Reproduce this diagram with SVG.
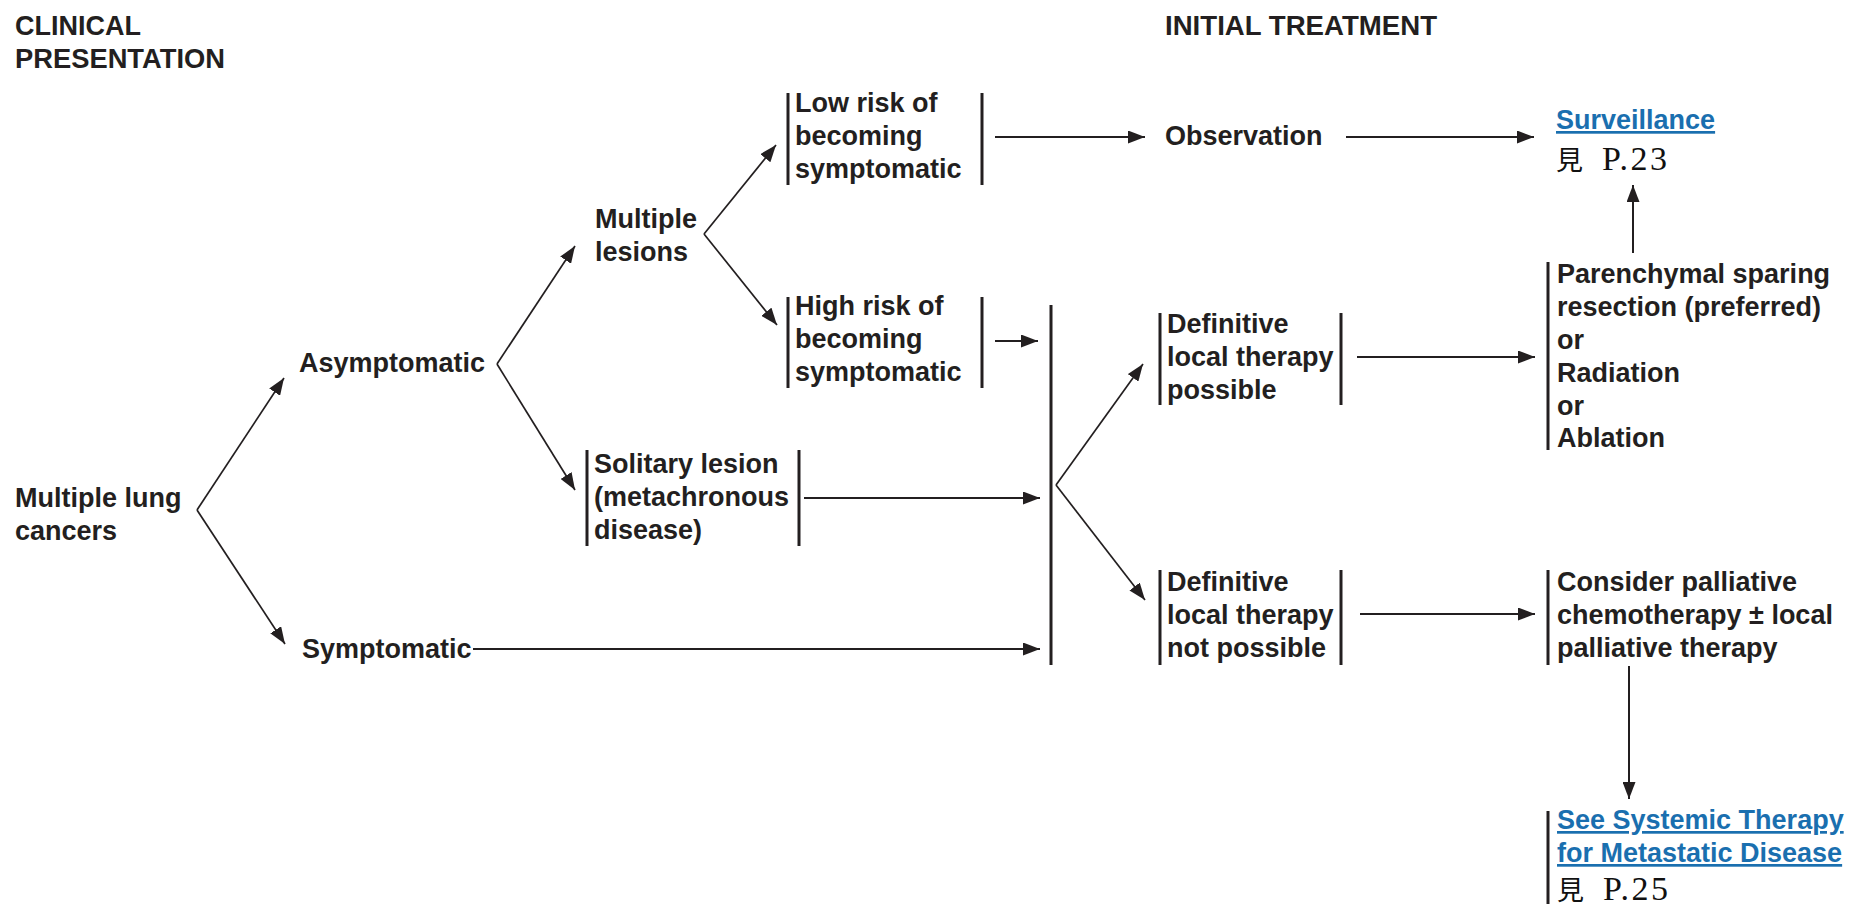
<svg xmlns="http://www.w3.org/2000/svg" width="1854" height="907" viewBox="0 0 1854 907">
<style>
  text { font-family: "Liberation Sans", Arial, sans-serif; font-weight: bold; font-size: 27px; fill: #231f20; }
  .hdr { font-size: 27px; }
  .link { fill: #1a6faf; text-decoration: underline; }
  .ref { font-family: "Liberation Serif", "Noto Sans CJK TC", serif; font-weight: normal; font-size: 34px; fill: #111; }
  .cjk { font-family: "Noto Sans CJK TC", "Noto Sans CJK SC", sans-serif; font-size: 27px; }
  .br { stroke: #231f20; stroke-width: 3; fill: none; }
  .ar { stroke: #231f20; stroke-width: 2; fill: none; marker-end: url(#ah); }
  .dg { stroke: #231f20; stroke-width: 1.7; fill: none; marker-end: url(#ah); }
</style>
<defs>
  <marker id="ah" markerUnits="userSpaceOnUse" markerWidth="18" markerHeight="13" refX="17" refY="6.5" orient="auto">
    <path d="M0,0 L17,6.5 L0,13 z" fill="#231f20"/>
  </marker>
</defs>
<rect width="1854" height="907" fill="#ffffff"/>

<g id="headers">
  <text class="hdr" x="15" y="35" textLength="126" lengthAdjust="spacingAndGlyphs">CLINICAL</text>
  <text class="hdr" x="15" y="68" textLength="210" lengthAdjust="spacingAndGlyphs">PRESENTATION</text>
  <text class="hdr" x="1165" y="35" textLength="272" lengthAdjust="spacingAndGlyphs">INITIAL TREATMENT</text>
</g>

<g id="multiple-lung-cancers">
  <text x="15" y="507">Multiple lung</text>
  <text x="15" y="540">cancers</text>
</g>

<g id="asymptomatic">
  <text x="299" y="372">Asymptomatic</text>
</g>

<g id="symptomatic">
  <text x="302" y="658">Symptomatic</text>
</g>

<g id="multiple-lesions">
  <text x="595" y="228">Multiple</text>
  <text x="595" y="261">lesions</text>
</g>

<g id="low-risk">
  <line class="br" x1="788" y1="93" x2="788" y2="185"/>
  <line class="br" x1="982" y1="93" x2="982" y2="185"/>
  <text x="795" y="112">Low risk of</text>
  <text x="795" y="145">becoming</text>
  <text x="795" y="178">symptomatic</text>
</g>

<g id="high-risk">
  <line class="br" x1="788" y1="297" x2="788" y2="388"/>
  <line class="br" x1="982" y1="297" x2="982" y2="388"/>
  <text x="795" y="315">High risk of</text>
  <text x="795" y="348">becoming</text>
  <text x="795" y="381">symptomatic</text>
</g>

<g id="solitary-lesion">
  <line class="br" x1="587" y1="450" x2="587" y2="546"/>
  <line class="br" x1="799" y1="450" x2="799" y2="546"/>
  <text x="594" y="473">Solitary lesion</text>
  <text x="594" y="506">(metachronous</text>
  <text x="594" y="539">disease)</text>
</g>

<g id="junction-bar">
  <line class="br" x1="1051" y1="305" x2="1051" y2="665"/>
</g>

<g id="observation">
  <text x="1165" y="145">Observation</text>
</g>

<g id="definitive-possible">
  <line class="br" x1="1160" y1="313" x2="1160" y2="405"/>
  <line class="br" x1="1341" y1="313" x2="1341" y2="405"/>
  <text x="1167" y="333">Definitive</text>
  <text x="1167" y="366">local therapy</text>
  <text x="1167" y="399">possible</text>
</g>

<g id="definitive-not-possible">
  <line class="br" x1="1160" y1="570" x2="1160" y2="665"/>
  <line class="br" x1="1341" y1="570" x2="1341" y2="665"/>
  <text x="1167" y="591">Definitive</text>
  <text x="1167" y="624">local therapy</text>
  <text x="1167" y="657">not possible</text>
</g>

<g id="surveillance">
  <text class="link" x="1556" y="129">Surveillance</text>
  <text class="ref" x="1556" y="170"><tspan class="cjk">見</tspan> <tspan x="1602" textLength="65" lengthAdjust="spacing">P.23</tspan></text>
</g>

<g id="resection">
  <line class="br" x1="1548" y1="262" x2="1548" y2="450"/>
  <text x="1557" y="283">Parenchymal sparing</text>
  <text x="1557" y="316">resection (preferred)</text>
  <text x="1557" y="349">or</text>
  <text x="1557" y="382">Radiation</text>
  <text x="1557" y="415">or</text>
  <text x="1557" y="447">Ablation</text>
</g>

<g id="palliative">
  <line class="br" x1="1548" y1="570" x2="1548" y2="665"/>
  <text x="1557" y="591">Consider palliative</text>
  <text x="1557" y="624">chemotherapy ± local</text>
  <text x="1557" y="657">palliative therapy</text>
</g>

<g id="systemic-therapy">
  <line class="br" x1="1548" y1="811" x2="1548" y2="904"/>
  <text class="link" x="1557" y="829">See Systemic Therapy</text>
  <text class="link" x="1557" y="862">for Metastatic Disease</text>
  <text class="ref" x="1557" y="900"><tspan class="cjk">見</tspan> <tspan x="1603" textLength="65" lengthAdjust="spacing">P.25</tspan></text>
</g>

<g id="connectors">
  <line class="dg" x1="197" y1="510" x2="284" y2="378"/>
  <line class="dg" x1="197" y1="510" x2="285" y2="644"/>
  <line class="dg" x1="497" y1="364" x2="575" y2="246"/>
  <line class="dg" x1="497" y1="364" x2="575" y2="490"/>
  <line class="dg" x1="704" y1="234" x2="776" y2="145"/>
  <line class="dg" x1="704" y1="234" x2="777" y2="325"/>
  <line class="ar" x1="995" y1="137" x2="1145" y2="137"/>
  <line class="ar" x1="1346" y1="137" x2="1534" y2="137"/>
  <line class="ar" x1="995" y1="341" x2="1038" y2="341"/>
  <line class="ar" x1="804" y1="498" x2="1040" y2="498"/>
  <line class="ar" x1="473" y1="649" x2="1040" y2="649"/>
  <line class="dg" x1="1056" y1="485" x2="1143" y2="364"/>
  <line class="dg" x1="1056" y1="485" x2="1145" y2="600"/>
  <line class="ar" x1="1357" y1="357" x2="1535" y2="357"/>
  <line class="ar" x1="1360" y1="614" x2="1535" y2="614"/>
  <line class="ar" x1="1633" y1="253" x2="1633" y2="185"/>
  <line class="ar" x1="1629" y1="666" x2="1629" y2="799"/>
</g>
</svg>
